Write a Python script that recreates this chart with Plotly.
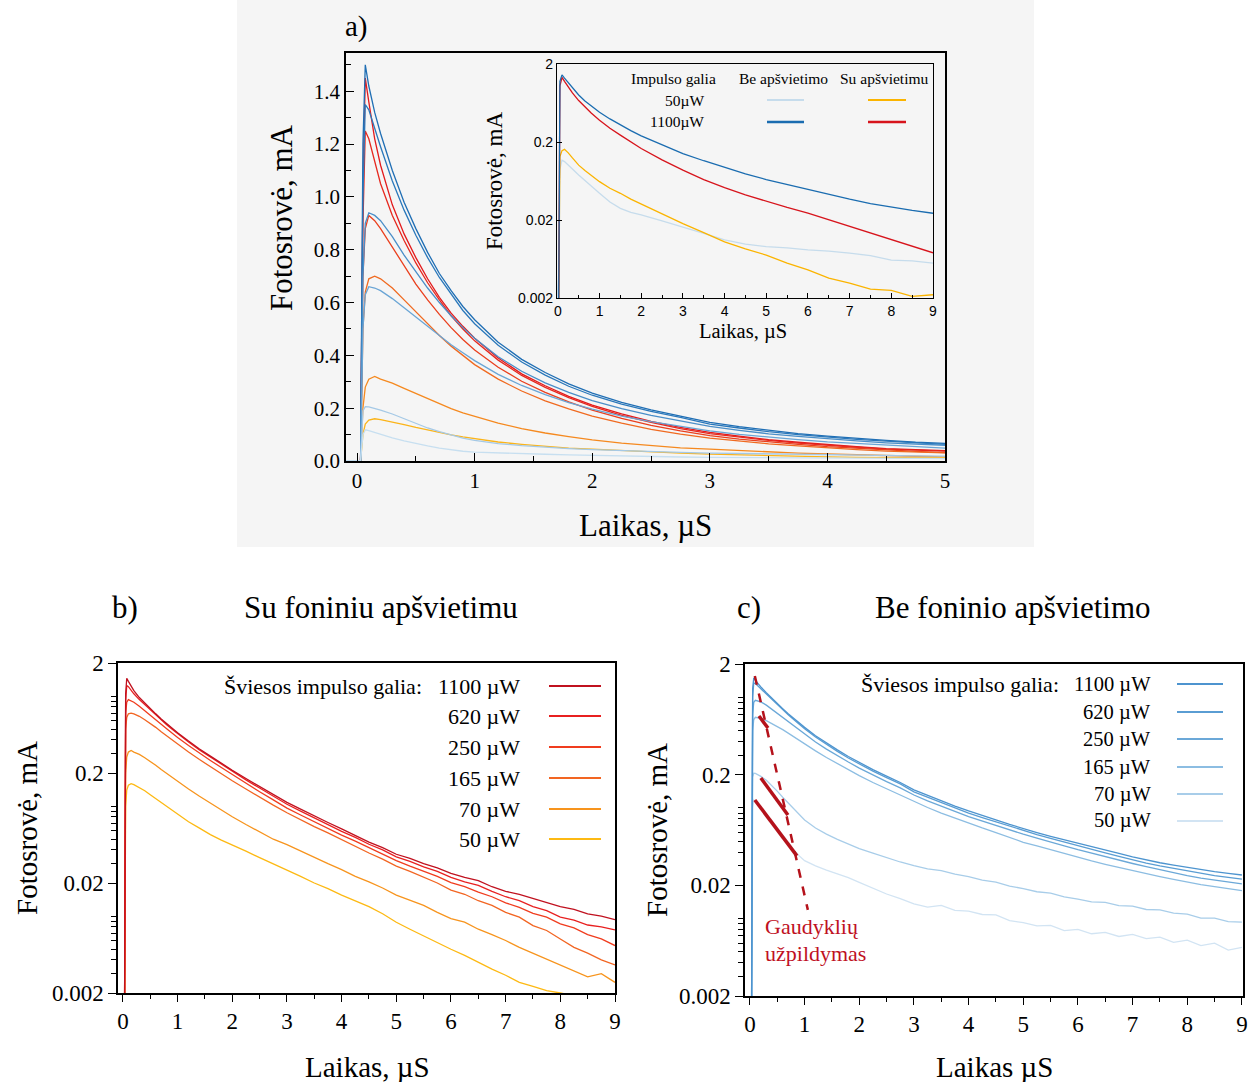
import plotly.graph_objects as go

W, H = 1249, 1082

# ---------------- data ----------------
powers = ["1100", "620", "250", "165", "70", "50"]

# common time grid for panels b and c (us)
t = [-0.1, 0.03, 0.05, 0.07, 0.1, 0.15, 0.2,
     0.3, 0.4, 0.5, 0.6, 0.7, 0.8, 0.9,
     1.0, 1.2, 1.4, 1.6, 1.8,
     2.0, 2.25, 2.5, 2.75,
     3.0, 3.25, 3.5, 3.75, 4.0, 4.25, 4.5, 4.75, 5.0, 5.25, 5.5, 5.75, 6.0, 6.25, 6.5, 6.75,
     7.0, 7.25, 7.5, 7.75, 8.0, 8.25, 8.5, 8.75, 9.0]

# panel b: with background illumination (mA)
b_1100 = [0.0015, 0.0015, 1.05, 1.45, 1.36, 1.22, 1.12,
          0.97, 0.86, 0.77, 0.69, 0.62, 0.56, 0.51,
          0.465, 0.39, 0.33, 0.285, 0.245,
          0.212, 0.178, 0.15, 0.127,
          0.108, 0.094, 0.081, 0.071, 0.062, 0.054, 0.047, 0.042, 0.0365, 0.0335, 0.030, 0.0275,
          0.0245, 0.0225, 0.021, 0.0185, 0.0168, 0.0158, 0.0145, 0.0132, 0.0122, 0.0115, 0.0105,
          0.0100, 0.0093]
b_620 = [0.0015, 0.0015, 0.9, 1.25, 1.22, 1.13, 1.05,
         0.93, 0.835, 0.75, 0.675, 0.61, 0.55, 0.50,
         0.455, 0.382, 0.324, 0.279, 0.24,
         0.207, 0.173, 0.146, 0.123,
         0.104, 0.090, 0.078, 0.068, 0.059, 0.052, 0.045, 0.040, 0.0345, 0.0315, 0.028, 0.0255,
         0.0225, 0.0205, 0.019, 0.0168, 0.0150, 0.0138, 0.0122, 0.0112, 0.0098, 0.0092, 0.0083,
         0.0080, 0.0075]
b_250 = [0.0015, 0.0015, 0.7, 0.88, 0.93, 0.91, 0.88,
         0.81, 0.74, 0.67, 0.61, 0.555, 0.505, 0.46,
         0.42, 0.355, 0.302, 0.26, 0.224,
         0.193, 0.161, 0.135, 0.114,
         0.096, 0.083, 0.072, 0.063, 0.0545, 0.048, 0.042, 0.0365, 0.032, 0.0285, 0.0255, 0.023,
         0.0202, 0.0185, 0.0165, 0.015, 0.0132, 0.012, 0.0106, 0.0098, 0.0085, 0.0078, 0.0068,
         0.0062, 0.0054]
b_165 = [0.0015, 0.0015, 0.5, 0.64, 0.69, 0.70, 0.69,
         0.655, 0.61, 0.565, 0.52, 0.475, 0.435, 0.40,
         0.365, 0.31, 0.265, 0.228, 0.197,
         0.17, 0.143, 0.12, 0.102,
         0.087, 0.075, 0.065, 0.057, 0.0495, 0.043, 0.0375, 0.033, 0.0285, 0.0255, 0.0225, 0.020,
         0.0172, 0.0158, 0.0138, 0.0125, 0.0108, 0.0098, 0.0082, 0.0074, 0.0062, 0.0052, 0.0046,
         0.0040, 0.0036]
b_70 = [0.0015, 0.0015, 0.2, 0.28, 0.31, 0.32, 0.31,
        0.295, 0.275, 0.255, 0.235, 0.215, 0.198, 0.182,
        0.168, 0.143, 0.123, 0.106, 0.092,
        0.08, 0.068, 0.058, 0.05,
        0.0446, 0.039, 0.034, 0.030, 0.0265, 0.023, 0.0205, 0.018, 0.0155, 0.014, 0.0125, 0.0108,
        0.0095, 0.0088, 0.0076, 0.0068, 0.006, 0.0052, 0.0046, 0.0041, 0.0036, 0.0032, 0.0028,
        0.0030, 0.0025]
b_50 = [0.0015, 0.0015, 0.1, 0.14, 0.155, 0.16, 0.157,
        0.148, 0.138, 0.127, 0.117, 0.108, 0.099, 0.091,
        0.084, 0.072, 0.063, 0.055, 0.049,
        0.0446, 0.039, 0.034, 0.030,
        0.0264, 0.023, 0.020, 0.0178, 0.0155, 0.0138, 0.0122, 0.0105, 0.0088, 0.0076, 0.0066, 0.0058,
        0.005, 0.0044, 0.0038, 0.0033, 0.0029, 0.0025, 0.0023, 0.0021, 0.0020, 0.0019, 0.0018,
        0.0019, 0.0017]

# panel c: without background illumination (mA)
c_1100 = [0.0015, 0.0015, 1.2, 1.5, 1.42, 1.32, 1.24,
          1.1, 0.98, 0.88, 0.79, 0.71, 0.645, 0.585,
          0.535, 0.45, 0.385, 0.335, 0.292,
          0.257, 0.222, 0.194, 0.17,
          0.146, 0.13, 0.116, 0.104, 0.094, 0.085, 0.078, 0.071, 0.065, 0.060, 0.0555, 0.0515,
          0.048, 0.0445, 0.0415, 0.0388, 0.0362, 0.034, 0.032, 0.0305, 0.029, 0.0278, 0.0266,
          0.0257, 0.0248]
c_620 = [0.0015, 0.0015, 1.0, 1.35, 1.33, 1.26, 1.19,
         1.06, 0.95, 0.855, 0.77, 0.695, 0.63, 0.57,
         0.52, 0.438, 0.375, 0.325, 0.283,
         0.249, 0.215, 0.188, 0.165,
         0.14, 0.125, 0.111, 0.1, 0.09, 0.082, 0.075, 0.068, 0.062, 0.0575, 0.053, 0.049,
         0.0455, 0.042, 0.0392, 0.0365, 0.034, 0.0318, 0.030, 0.0285, 0.027, 0.0256, 0.0245,
         0.0236, 0.0228]
c_250 = [0.0015, 0.0015, 0.7, 0.9, 0.94, 0.93, 0.91,
         0.85, 0.78, 0.715, 0.655, 0.6, 0.55, 0.505,
         0.465, 0.395, 0.34, 0.296, 0.26,
         0.229, 0.198, 0.173, 0.152,
         0.131, 0.116, 0.103, 0.093, 0.0835, 0.076, 0.069, 0.063, 0.058, 0.0535, 0.049, 0.0455,
         0.042, 0.039, 0.0362, 0.0338, 0.0315, 0.0295, 0.0276, 0.026, 0.0245, 0.0232, 0.0222,
         0.0213, 0.0206]
c_165 = [0.0015, 0.0015, 0.5, 0.63, 0.66, 0.655, 0.645,
         0.615, 0.58, 0.545, 0.51, 0.475, 0.44, 0.41,
         0.38, 0.328, 0.286, 0.251, 0.221,
         0.196, 0.17, 0.149, 0.131,
         0.114, 0.101, 0.09, 0.081, 0.0726, 0.066, 0.06, 0.0545, 0.049, 0.0455, 0.042, 0.0385,
         0.0355, 0.0332, 0.031, 0.029, 0.0271, 0.0255, 0.024, 0.0226, 0.0213, 0.0203, 0.0195,
         0.0186, 0.0179]
c_70 = [0.0015, 0.0015, 0.19, 0.206, 0.205, 0.2, 0.193,
        0.178, 0.16, 0.142, 0.125, 0.111, 0.098, 0.087,
        0.078, 0.066, 0.058, 0.052, 0.047,
        0.043, 0.039, 0.0355, 0.0325,
        0.0301, 0.0282, 0.0272, 0.0252, 0.0240, 0.0223, 0.0214, 0.0197, 0.0187, 0.0175, 0.0170,
        0.0157, 0.0150, 0.0142, 0.0140, 0.0131, 0.0130, 0.0121, 0.0120, 0.0112, 0.0110, 0.0101,
        0.0101, 0.0094, 0.0093]
c_50 = [0.0015, 0.0015, 0.1, 0.118, 0.115, 0.108, 0.1,
        0.088, 0.076, 0.066, 0.057, 0.049, 0.042, 0.037,
        0.0334, 0.030, 0.0275, 0.0255, 0.0235,
        0.0213, 0.019, 0.0167, 0.0152,
        0.0136, 0.0127, 0.0132, 0.0119, 0.0117, 0.0109, 0.0108, 0.0096, 0.0092, 0.0086, 0.0087,
        0.0078, 0.0080, 0.0073, 0.0075, 0.0069, 0.0072, 0.0066, 0.0068, 0.0061, 0.0064, 0.0057,
        0.0060, 0.0052, 0.0055]

# inset of panel a
t_i = [-0.05, 0.02, 0.05, 0.1, 0.16, 0.25, 0.35, 0.5, 0.65, 0.8,
       1.0, 1.25, 1.5, 1.75, 2.0,
       2.5, 3.0, 3.5, 4.0, 4.5,
       5.0, 5.5, 6.0, 6.5, 7.0,
       7.5, 8.0, 8.5, 9.0]
i_be_1100 = [0.0015, 0.0015, 1.2, 1.45, 1.32, 1.15, 0.98, 0.80, 0.67, 0.58,
             0.48, 0.395, 0.33, 0.28, 0.24,
             0.185, 0.142, 0.115, 0.094, 0.078,
             0.066, 0.057, 0.049, 0.043, 0.037,
             0.0325, 0.0292, 0.0265, 0.0244]
i_su_1100 = [0.0015, 0.0015, 1.05, 1.35, 1.2, 1.02, 0.85, 0.68, 0.56, 0.47,
             0.38, 0.3, 0.245, 0.2, 0.165,
             0.118, 0.087, 0.066, 0.052, 0.042,
             0.0348, 0.029, 0.0245, 0.0202, 0.0167,
             0.0138, 0.0113, 0.0092, 0.0076]
i_su_50 = [0.0015, 0.0015, 0.13, 0.155, 0.161, 0.145, 0.125, 0.101, 0.086, 0.074,
           0.062, 0.051, 0.044, 0.037, 0.032,
           0.024, 0.018, 0.0138, 0.0105, 0.0085,
           0.0071, 0.0056, 0.0046, 0.0036, 0.0031,
           0.0026, 0.0025, 0.0021, 0.0022]
i_be_50 = [0.005, 0.0015, 0.09, 0.117, 0.112, 0.1, 0.09, 0.0755, 0.064, 0.054,
           0.044, 0.034, 0.0282, 0.025, 0.0232,
           0.0195, 0.0164, 0.0135, 0.0111, 0.0098,
           0.0091, 0.0088, 0.0083, 0.0080, 0.0075,
           0.0070, 0.0061, 0.0060, 0.0056]

# "trap filling" guide lines in panel c
trap_dash_t = [0.09, 1.06]
trap_dash_y = [1.56, 0.012]
trap_seg1_t = [0.165, 0.33]
trap_seg1_y = [0.678, 0.528]
trap_seg2_t = [0.20, 0.695]
trap_seg2_y = [0.1867, 0.0865]
trap_seg3_t = [0.09, 0.86]
trap_seg3_y = [0.118, 0.0369]

b_series = [b_1100, b_620, b_250, b_165, b_70, b_50]
c_series = [c_1100, c_620, c_250, c_165, c_70, c_50]
for s in b_series + c_series:
    assert len(s) == len(t)
for s in [i_be_1100, i_su_1100, i_su_50, i_be_50]:
    assert len(s) == len(t_i)

# ---------------- styles ----------------
b_colors = ["#c0111f", "#e82020", "#f03c1e", "#f26522", "#f7941d", "#fdb913"]
c_colors = ["#4d94cf", "#5a9dd3", "#6ba8d8", "#8cbde2", "#a8cde9", "#d2e4f3"]
a_red = ["#e31a1c", "#e6281e", "#ea3f1d", "#f06a20", "#f5891f", "#fbb41a"]
a_blue = ["#1f6eb4", "#2a78bb", "#4a8ec8", "#6aa5d5", "#a5c9e6", "#c7dff0"]
SERIF = "Liberation Serif"
SANS = "Liberation Sans"

fig = go.Figure()


def add(x, y, color, xa, ya, width=1.3, dash=None):
    fig.add_trace(go.Scatter(x=x, y=y, mode="lines",
                             line=dict(color=color, width=width, dash=dash),
                             xaxis=xa, yaxis=ya, showlegend=False, hoverinfo="skip"))


# panel a (linear, same measurements)
for s, col in zip(b_series, a_red):
    add(t, s, col, "x", "y")
for s, col in zip(c_series, a_blue):
    add(t, s, col, "x", "y")

# inset
add(t_i, i_be_50, "#c6dcec", "x2", "y2")
add(t_i, i_su_50, "#fbb400", "x2", "y2")
add(t_i, i_su_1100, "#d7141c", "x2", "y2")
add(t_i, i_be_1100, "#1a6cb0", "x2", "y2")

# panel b
for s, col in zip(b_series[::-1], b_colors[::-1]):
    add(t, s, col, "x3", "y3")

# panel c
for s, col in zip(c_series[::-1], c_colors[::-1]):
    add(t, s, col, "x4", "y4")

trap_col = "#b5121b"
add(trap_dash_t, trap_dash_y, trap_col, "x4", "y4", width=2.5, dash="dash")
add(trap_seg1_t, trap_seg1_y, trap_col, "x4", "y4", width=3.5)
add(trap_seg2_t, trap_seg2_y, trap_col, "x4", "y4", width=3.5)
add(trap_seg3_t, trap_seg3_y, trap_col, "x4", "y4", width=3.5)


def px(x):
    return x / W


def py(y):
    return 1 - y / H


base = dict(showline=True, linecolor="black", linewidth=1.5, mirror=True, showgrid=False,
            zeroline=False, tickcolor="black", tickwidth=1.2, automargin=False)

logticks = dict(type="log", range=[-2.699, 0.301], tickvals=[0.002, 0.02, 0.2, 2],
                ticktext=["0.002", "0.02", "0.2", "2"])

TF = dict(family=SERIF, size=23, color="black")

fig.update_layout(
    width=W, height=H, margin=dict(l=0, r=0, t=0, b=0, autoexpand=False),
    paper_bgcolor="white", plot_bgcolor="rgba(0,0,0,0)",
    xaxis=dict(base, domain=[px(346), px(945)], anchor="y", range=[-0.094, 5], dtick=1,
               ticks="inside", ticklen=8, minor=dict(ticks="inside", ticklen=5, dtick=0.5, tickcolor="black"),
               tickfont=dict(family=SERIF, size=21, color="black")),
    yaxis=dict(base, domain=[py(461), py(53)], anchor="x", range=[0, 1.545], dtick=0.2, tickformat=".1f",
               ticks="inside", ticklen=8, minor=dict(ticks="inside", ticklen=5, dtick=0.1, tickcolor="black"),
               tickfont=dict(family=SERIF, size=21, color="black")),
    xaxis2=dict(base, domain=[px(557), px(933)], anchor="y2", range=[-0.02, 9], dtick=1,
                ticks="inside", ticklen=5, minor=dict(ticks="inside", ticklen=3, dtick=0.5, tickcolor="black"),
                tickfont=dict(family=SANS, size=14, color="black"), linewidth=1.2),
    yaxis2=dict(base, domain=[py(298), py(64)], anchor="x2", ticks="inside", ticklen=5,
                tickfont=dict(family=SANS, size=14, color="black"), linewidth=1.2, **logticks),
    xaxis3=dict(base, domain=[px(118), px(615)], anchor="y3", range=[-0.09, 9], dtick=1,
                ticks="outside", ticklen=7, minor=dict(ticks="outside", ticklen=4, dtick=0.5, tickcolor="black"),
                tickfont=TF),
    yaxis3=dict(base, domain=[py(993), py(663)], anchor="x3", ticks="outside", ticklen=8,
                minor=dict(ticks="outside", ticklen=5, dtick="D1", tickcolor="black"),
                tickfont=TF, **logticks),
    xaxis4=dict(base, domain=[px(745), px(1243)], anchor="y4", range=[-0.09, 9.02], dtick=1,
                ticks="outside", ticklen=7, minor=dict(ticks="outside", ticklen=4, dtick=0.5, tickcolor="black"),
                tickfont=TF),
    yaxis4=dict(base, domain=[py(996), py(664)], anchor="x4", ticks="outside", ticklen=8,
                minor=dict(ticks="outside", ticklen=5, dtick="D1", tickcolor="black"),
                tickfont=TF, **logticks),
)

shapes = [dict(type="rect", xref="paper", yref="paper", x0=px(237), x1=px(1034), y0=py(547), y1=1,
               fillcolor="#f5f5f5", line=dict(width=0), layer="below")]


def hline(x0, x1, y, color, width):
    shapes.append(dict(type="line", xref="paper", yref="paper", x0=px(x0), x1=px(x1), y0=py(y), y1=py(y),
                       line=dict(color=color, width=width)))


# inset legend lines
hline(767, 804, 100, "#c6dcec", 2)
hline(868, 906, 100, "#fbb400", 2)
hline(767, 804, 122, "#1a6cb0", 2.5)
hline(868, 906, 122, "#d7141c", 2.5)

b_rows = [686, 716, 747, 778, 809, 839]
c_rows = [684, 712, 739, 767, 794, 821]
for yy, col in zip(b_rows, b_colors):
    hline(549, 601, yy, col, 1.8)
for yy, col in zip(c_rows, c_colors):
    hline(1177, 1223, yy, col, 1.8)

fig.update_layout(shapes=shapes)

ann = []


def text(x, y, s, size, family=SERIF, xanchor="center", angle=0, color="black"):
    ann.append(dict(x=px(x), y=py(y), xref="paper", yref="paper", text=s, showarrow=False,
                    xanchor=xanchor, yanchor="middle", textangle=angle,
                    font=dict(family=family, size=size, color=color)))


# panel a
text(356, 27, "a)", 29)
text(281, 218, "Fotosrovė, mA", 31, angle=-90)
text(645, 526, "Laikas, µS", 31)
text(494, 181, "Fotosrovė, mA", 23, angle=-90)
text(743, 331, "Laikas, µS", 20.5)
text(673, 78, "Impulso galia", 15.5)
text(783, 78, "Be apšvietimo", 15.5)
text(884, 78, "Su apšvietimu", 15.5)
text(706, 100, "50µW", 15.5, xanchor="right")
text(706, 122, "1100µW", 15.5, xanchor="right")

# panel b
text(125, 607, "b)", 31)
text(381, 607, "Su foniniu apšvietimu", 31)
text(27, 828, "Fotosrovė, mA", 29, angle=-90)
text(367, 1067, "Laikas, µS", 29)
text(424, 686, "Šviesos impulso galia:", 22, xanchor="right")
for yy, p in zip(b_rows, powers):
    text(522, yy, p + " µW", 22, xanchor="right")

# panel c
text(749, 607, "c)", 31)
text(1013, 607, "Be foninio apšvietimo", 31)
text(657, 830, "Fotosrovė, mA", 29, angle=-90)
text(994, 1067, "Laikas µS", 29)
text(1061, 684, "Šviesos impulso galia:", 22, xanchor="right")
for yy, p in zip(c_rows, powers):
    text(1153, yy, p + " µW", 20.5, xanchor="right")
text(763, 926, "Gaudyklių", 22, xanchor="left", color="#c0111f")
text(763, 954, "užpildymas", 22, xanchor="left", color="#c0111f")

fig.update_layout(annotations=ann)

fig.write_html("out.html")
